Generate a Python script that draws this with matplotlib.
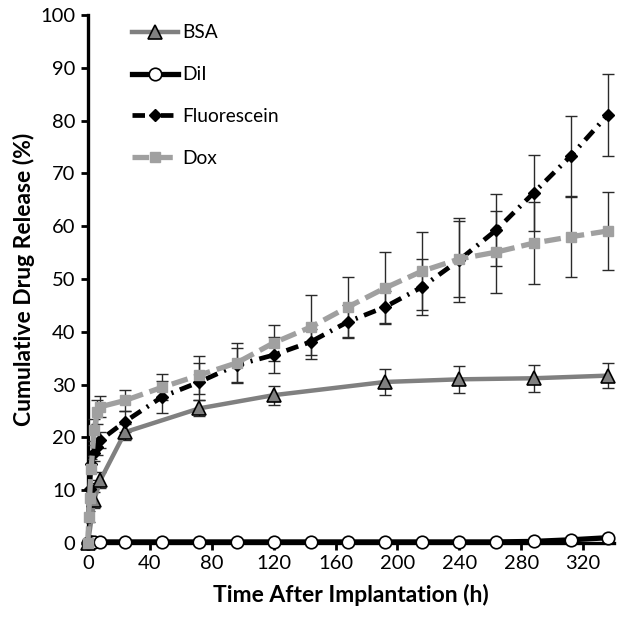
import matplotlib
matplotlib.use("Agg")
import matplotlib.pyplot as plt
from matplotlib.lines import Line2D

plt.rcParams['font.family'] = ['Lato', 'DejaVu Sans']
plt.rcParams['lines.scale_dashes'] = False

# ---- data ----
bsa_t = [0, 4, 8, 24, 72, 120, 192, 240, 288, 336]
bsa_y = [0, 8.1, 11.9, 21.0, 25.5, 28.0, 30.5, 31.0, 31.2, 31.7]
bsa_e = [0, 1.5, 1.5, 1.5, 1.5, 1.8, 2.4, 2.5, 2.6, 2.4]

dil_t = [0, 1, 2, 4, 8, 24, 48, 72, 96, 120, 144, 168, 192, 216, 240, 264, 288, 312, 336]
dil_y = [0, 0.1, 0.1, 0.1, 0.2, 0.2, 0.2, 0.2, 0.2, 0.2, 0.2, 0.2, 0.2, 0.2, 0.2, 0.2, 0.3, 0.6, 1.0]
dil_e = [0, 0.1, 0.1, 0.1, 0.1, 0.1, 0.1, 0.1, 0.1, 0.1, 0.1, 0.1, 0.1, 0.1, 0.1, 0.1, 0.1, 0.2, 0.3]

flu_t = [0, 1, 2, 4, 6, 8, 24, 48, 72, 96, 120, 144, 168, 192, 216, 240, 264, 288, 312, 336]
flu_y = [0, 10.3, 15.0, 17.0, 18.2, 19.5, 23.0, 27.7, 30.5, 33.7, 35.6, 38.1, 41.9, 44.7, 48.5, 53.6, 59.3, 66.3, 73.3, 81.1]
flu_e = [0, 1.0, 1.5, 1.5, 1.5, 1.5, 2.0, 3.0, 3.5, 3.2, 3.4, 2.5, 3.1, 3.0, 5.3, 8.0, 6.8, 7.2, 7.6, 7.8]

dox_t = [0, 0.5, 1, 2, 4, 6, 8, 24, 48, 72, 96, 120, 144, 168, 192, 216, 240, 264, 288, 312, 336]
dox_y = [0, 5.0, 8.5, 14.0, 21.4, 24.8, 25.8, 27.0, 29.5, 31.8, 34.1, 37.9, 40.9, 44.7, 48.3, 51.5, 53.8, 55.1, 56.8, 58.0, 59.1]
dox_e = [0, 1.0, 1.5, 2.0, 2.0, 2.2, 2.0, 2.0, 2.5, 3.6, 3.8, 3.4, 6.1, 5.7, 6.9, 7.4, 7.2, 7.8, 7.7, 7.6, 7.3]

x_ticks = [0, 40, 80, 120, 160, 200, 240, 280, 320]
y_ticks = [0, 10, 20, 30, 40, 50, 60, 70, 80, 90, 100]

fig = plt.figure(figsize=(6.24, 6.26), dpi=100)
ax = fig.add_axes([0.141, 0.1326, 0.843, 0.8434])

ecol = '#2a2a2a'
ekw = dict(ecolor=ecol, elinewidth=1.0, capsize=4, capthick=1.0, zorder=4)

# BSA
ax.errorbar(bsa_t, bsa_y, yerr=bsa_e, fmt='none', **ekw)
ax.plot(bsa_t, bsa_y, color='#808080', lw=3.2, marker='^', ms=10,
        mfc='#808080', mec='black', mew=1.2, zorder=5, clip_on=False)
# Dil
ax.errorbar(dil_t, dil_y, yerr=dil_e, fmt='none', **ekw)
ax.plot(dil_t, dil_y, color='black', lw=3.8, marker='o', ms=9,
        mfc='white', mec='black', mew=1.2, zorder=6, clip_on=False)
# Fluorescein
ax.errorbar(flu_t, flu_y, yerr=flu_e, fmt='none', **ekw)
ax.plot(flu_t, flu_y, color='black', lw=3.4, ls=(0, (9, 5, 1.5, 5)), marker='D', ms=6,
        mfc='black', mec='black', zorder=7, clip_on=False)
# Dox
ax.errorbar(dox_t, dox_y, yerr=dox_e, fmt='none', **ekw)
ax.plot(dox_t, dox_y, color='#a0a0a0', lw=3.8, ls=(0, (12, 5)), marker='s', ms=7,
        mfc='#a0a0a0', mec='#a0a0a0', zorder=8, clip_on=False)

ax.set_xlim(0, 340)
ax.set_ylim(0, 100)
ax.set_xticks(x_ticks)
ax.set_yticks(y_ticks)
ax.tick_params(direction='out', length=5, width=2, labelsize=14.5, pad=4)
for s in ['top', 'right']:
    ax.spines[s].set_visible(False)
for s in ['left', 'bottom']:
    ax.spines[s].set_linewidth(2.4)

ax.set_xlabel('Time After Implantation (h)', fontsize=16.5, fontweight='bold', labelpad=8)
ax.set_ylabel('Cumulative Drug Release (%)', fontsize=16.5, fontweight='bold', labelpad=4)

handles = [
    Line2D([], [], color='#808080', lw=3.2, marker='^', ms=10, mfc='#808080', mec='black', mew=1.2),
    Line2D([], [], color='black', lw=3.8, marker='o', ms=9, mfc='white', mec='black', mew=1.2),
    Line2D([], [], color='black', lw=3.4, ls=(0, (9, 5, 1.5, 5)), marker='D', ms=6, mfc='black', mec='black'),
    Line2D([], [], color='#a0a0a0', lw=3.8, ls=(0, (12, 5)), marker='s', ms=7, mfc='#a0a0a0', mec='#a0a0a0'),
]
ax.legend(handles, ['BSA', 'DiI', 'Fluorescein', 'Dox'], loc='upper left',
          bbox_to_anchor=(0.05, 1.015), frameon=False, fontsize=13.8,
          handlelength=2.4, labelspacing=1.3, handletextpad=0.25, numpoints=1)

fig.savefig('out.png', dpi=100)
